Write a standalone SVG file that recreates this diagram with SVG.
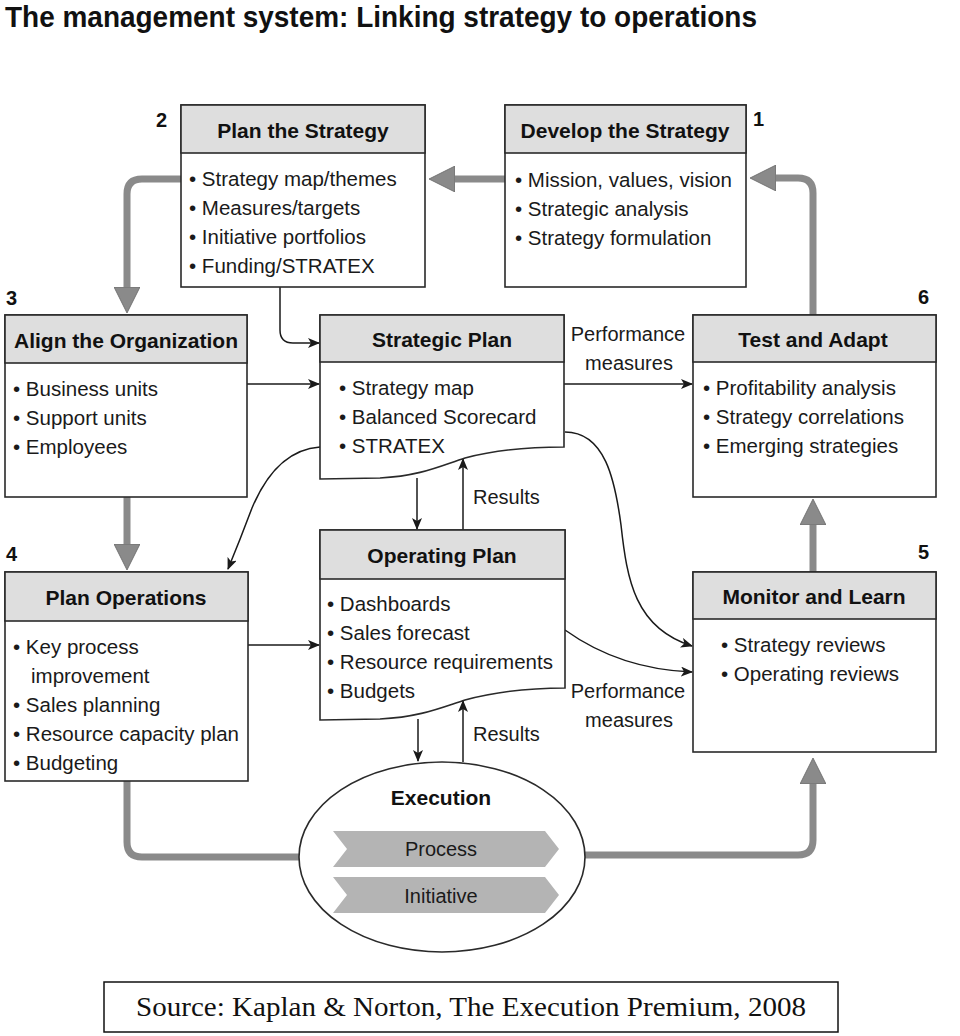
<svg xmlns="http://www.w3.org/2000/svg" width="960" height="1036" viewBox="0 0 960 1036">
<defs>
<style>
.box{fill:#fff;stroke:#2a2a2a;stroke-width:1.6}
.hdr{fill:#dedede;stroke:#2a2a2a;stroke-width:1.6}
.ht{font-family:"Liberation Sans",Arial,sans-serif;font-weight:bold;font-size:21px;fill:#111;text-anchor:middle}
.bt{font-family:"Liberation Sans",Arial,sans-serif;font-size:20.5px;fill:#1a1a1a}
.num{font-family:"Liberation Sans",Arial,sans-serif;font-weight:bold;font-size:20px;fill:#111}
.lbl{font-family:"Liberation Sans",Arial,sans-serif;font-size:20px;fill:#1a1a1a}
.thick{fill:none;stroke:#8a8a8a;stroke-width:7}
.thin{fill:none;stroke:#1a1a1a;stroke-width:1.5}
.chev{fill:#b4b4b4}
</style>
<marker id="big" markerUnits="userSpaceOnUse" viewBox="0 0 26 26" refX="2" refY="13" markerWidth="26" markerHeight="26" orient="auto">
<path d="M0,0 L26,13 L0,26 Z" fill="#8a8a8a" stroke="#666" stroke-width="0.8"/>
</marker>
<marker id="sm" markerUnits="userSpaceOnUse" viewBox="0 0 12 10" refX="11" refY="5" markerWidth="12" markerHeight="10" orient="auto">
<path d="M0,0 L12,5 L0,10 L3,5 Z" fill="#1a1a1a"/>
</marker>
</defs>
<rect width="960" height="1036" fill="#fff"/>
<text x="5" y="27" font-family="'Liberation Sans',Arial,sans-serif" font-weight="bold" font-size="29" fill="#111" textLength="752" lengthAdjust="spacingAndGlyphs">The management system: Linking strategy to operations</text>

<g id="connectors">
<path class="thick" d="M505,179 L453,179" marker-end="url(#big)"/>
<path class="thick" d="M181,179 L142,179 Q127,179 127,194 L127,289" marker-end="url(#big)"/>
<path class="thick" d="M127,497 L127,546" marker-end="url(#big)"/>
<path class="thick" d="M127,781 L127,842 Q127,857 142,857 L299,857"/>
<path class="thick" d="M585,855 L798,855 Q813,855 813,840 L813,782" marker-end="url(#big)"/>
<path class="thick" d="M813,572 L813,523" marker-end="url(#big)"/>
<path class="thick" d="M813,315 L813,193 Q813,178 798,178 L774,178" marker-end="url(#big)"/>
<path class="thin" d="M280,287 L280,330 Q280,343 293,343 L319,343" marker-end="url(#sm)"/>
<path class="thin" d="M247,384 L319,384" marker-end="url(#sm)"/>
<path class="thin" d="M564,384 L692,384" marker-end="url(#sm)"/>
<path class="thin" d="M320,447 C290,449 268,470 252,508 Q240,540 228,569" marker-end="url(#sm)"/>
<path class="thin" d="M565,432 C605,432 615,480 621,525 C627,580 635,628 692,646" marker-end="url(#sm)"/>
<path class="thin" d="M565,630 C600,655 640,670 692,672" marker-end="url(#sm)"/>
<path class="thin" d="M248,645 L319,645" marker-end="url(#sm)"/>
<path class="thin" d="M417,478 L417,529" marker-end="url(#sm)"/>
<path class="thin" d="M463,530 L463,459" marker-end="url(#sm)"/>
<path class="thin" d="M418,719 L418,761" marker-end="url(#sm)"/>
<path class="thin" d="M463,762 L463,701" marker-end="url(#sm)"/>
<text class="lbl" x="628" y="341" text-anchor="middle">Performance</text>
<text class="lbl" x="629" y="370" text-anchor="middle">measures</text>
<text class="lbl" x="628" y="698" text-anchor="middle">Performance</text>
<text class="lbl" x="629" y="727" text-anchor="middle">measures</text>
<text class="lbl" x="473" y="504">Results</text>
<text class="lbl" x="473" y="741">Results</text>
</g>

<g id="plan-strategy">
<rect class="box" x="181" y="105" width="244" height="182"/>
<rect class="hdr" x="181" y="105" width="244" height="48"/>
<text class="ht" x="303" y="138">Plan the Strategy</text>
<text class="num" x="156" y="127">2</text>
<text class="bt" x="189" y="186">• Strategy map/themes</text>
<text class="bt" x="189" y="215">• Measures/targets</text>
<text class="bt" x="189" y="244">• Initiative portfolios</text>
<text class="bt" x="189" y="273">• Funding/STRATEX</text>
</g>

<g id="develop-strategy">
<rect class="box" x="505" y="105" width="241" height="182"/>
<rect class="hdr" x="505" y="105" width="241" height="48"/>
<text class="ht" x="625" y="138">Develop the Strategy</text>
<text class="num" x="753" y="126">1</text>
<text class="bt" x="515" y="187">• Mission, values, vision</text>
<text class="bt" x="515" y="216">• Strategic analysis</text>
<text class="bt" x="515" y="245">• Strategy formulation</text>
</g>

<g id="align-organization">
<rect class="box" x="5" y="315" width="242" height="182"/>
<rect class="hdr" x="5" y="315" width="242" height="48"/>
<text class="ht" x="126" y="348">Align the Organization</text>
<text class="num" x="6" y="305">3</text>
<text class="bt" x="13" y="396">• Business units</text>
<text class="bt" x="13" y="425">• Support units</text>
<text class="bt" x="13" y="454">• Employees</text>
</g>

<g id="strategic-plan">
<path class="box" d="M320,315 H564 V447 C530,447 495,450 465,458 C440,466 420,476 380,478 L320,479 Z"/>
<rect class="hdr" x="320" y="315" width="244" height="47"/>
<text class="ht" x="442" y="347">Strategic Plan</text>
<text class="bt" x="339" y="395">• Strategy map</text>
<text class="bt" x="339" y="424">• Balanced Scorecard</text>
<text class="bt" x="339" y="453">• STRATEX</text>
</g>

<g id="test-adapt">
<rect class="box" x="693" y="315" width="243" height="182"/>
<rect class="hdr" x="693" y="315" width="243" height="47"/>
<text class="ht" x="813" y="347">Test and Adapt</text>
<text class="num" x="918" y="304">6</text>
<text class="bt" x="703" y="395">• Profitability analysis</text>
<text class="bt" x="703" y="424">• Strategy correlations</text>
<text class="bt" x="703" y="453">• Emerging strategies</text>
</g>

<g id="plan-operations">
<rect class="box" x="5" y="572" width="243" height="209"/>
<rect class="hdr" x="5" y="572" width="243" height="49"/>
<text class="ht" x="126" y="605">Plan Operations</text>
<text class="num" x="6" y="561">4</text>
<text class="bt" x="13" y="654">• Key process</text>
<text class="bt" x="31" y="683">improvement</text>
<text class="bt" x="13" y="712">• Sales planning</text>
<text class="bt" x="13" y="741">• Resource capacity plan</text>
<text class="bt" x="13" y="770">• Budgeting</text>
</g>

<g id="operating-plan">
<path class="box" d="M320,530 H565 V688 C530,688 495,692 465,700 C440,708 420,717 380,719 L320,720 Z"/>
<rect class="hdr" x="320" y="530" width="245" height="49"/>
<text class="ht" x="442" y="563">Operating Plan</text>
<text class="bt" x="327" y="611">• Dashboards</text>
<text class="bt" x="327" y="640">• Sales forecast</text>
<text class="bt" x="327" y="669">• Resource requirements</text>
<text class="bt" x="327" y="698">• Budgets</text>
</g>

<g id="monitor-learn">
<rect class="box" x="693" y="572" width="243" height="180"/>
<rect class="hdr" x="693" y="572" width="243" height="47"/>
<text class="ht" x="814" y="604">Monitor and Learn</text>
<text class="num" x="918" y="559">5</text>
<text class="bt" x="721" y="652">• Strategy reviews</text>
<text class="bt" x="721" y="681">• Operating reviews</text>
</g>

<g id="execution">
<ellipse cx="442" cy="857" rx="143" ry="95" fill="#fff" stroke="#2a2a2a" stroke-width="1.6"/>
<text class="ht" x="441" y="805">Execution</text>
<polygon class="chev" points="333,831 545,831 559,849 545,867 333,867 347,849"/>
<polygon class="chev" points="333,877 545,877 559,895 545,913 333,913 347,895"/>
<text class="lbl" x="441" y="856" text-anchor="middle" font-size="21">Process</text>
<text class="lbl" x="441" y="903" text-anchor="middle" font-size="21">Initiative</text>
</g>

<g id="source">
<rect x="104" y="982" width="734" height="50" fill="#fff" stroke="#111" stroke-width="1.5"/>
<text x="471" y="1016" text-anchor="middle" font-family="'Liberation Serif','Times New Roman',serif" font-size="27" fill="#111" textLength="670" lengthAdjust="spacingAndGlyphs">Source: Kaplan &amp; Norton, The Execution Premium, 2008</text>
</g>
</svg>
